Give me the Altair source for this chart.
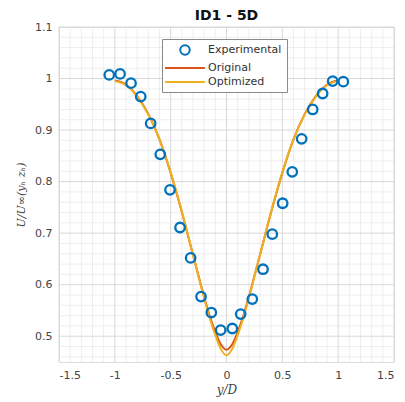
import altair as alt
import numpy as np
import pandas as pd

# ---- data ----
exp_x = [-1.05, -0.953, -0.855, -0.768, -0.679, -0.593, -0.506, -0.416, -0.321, -0.228,
         -0.136, -0.052, 0.052, 0.127, 0.231, 0.327, 0.410, 0.503, 0.589, 0.673,
         0.772, 0.861, 0.951, 1.046]
exp_y = [1.007, 1.009, 0.991, 0.965, 0.913, 0.853, 0.784, 0.711, 0.652, 0.577,
         0.546, 0.512, 0.515, 0.543, 0.572, 0.630, 0.698, 0.758, 0.819, 0.883,
         0.940, 0.971, 0.995, 0.994]

curve_x = [-1.0, -0.9, -0.8, -0.7, -0.6, -0.5, -0.4, -0.3, -0.2, -0.15, -0.1, -0.05, 0.0,
           0.05, 0.1, 0.15, 0.2, 0.3, 0.4, 0.5, 0.6, 0.7, 0.8, 0.9, 1.0]
orig_y = [0.996, 0.988, 0.966, 0.931, 0.882, 0.817, 0.741, 0.658, 0.576, 0.539, 0.508, 0.484, 0.474,
          0.484, 0.508, 0.539, 0.576, 0.658, 0.741, 0.817, 0.882, 0.931, 0.966, 0.988, 0.996]
opt_y = [0.995, 0.987, 0.965, 0.930, 0.882, 0.818, 0.742, 0.658, 0.574, 0.535, 0.502, 0.475, 0.463,
         0.475, 0.502, 0.535, 0.574, 0.658, 0.742, 0.818, 0.882, 0.930, 0.965, 0.987, 0.995]

series_names = ["Experimental", "Original", "Optimized"]
series_colors = ["#0072BD", "#D95319", "#EDB120"]
series_shapes = ["circle", "M-4.2,0L4.2,0", "M-4.2,0L4.2,0"]

x_ticks = [-1.5, -1, -0.5, 0, 0.5, 1, 1.5]
y_ticks = [0.5, 0.6, 0.7, 0.8, 0.9, 1, 1.1]

# ---- tables ----
exp_df = pd.DataFrame({"x": exp_x, "y": exp_y, "series": "Experimental"})
curve_df = pd.concat([
    pd.DataFrame({"x": curve_x, "y": orig_y, "series": "Original", "k": 0}),
    pd.DataFrame({"x": curve_x, "y": opt_y, "series": "Optimized", "k": 1}),
])

minor_x = [round(v, 2) for v in np.arange(-1.5, 1.501, 0.1) if round(v, 2) not in x_ticks]
minor_y = [round(v, 2) for v in np.arange(0.46, 1.1001, 0.02) if round(v, 2) not in y_ticks]
gx_major = pd.DataFrame({"v": x_ticks})
gy_major = pd.DataFrame({"v": y_ticks})
gx_minor = pd.DataFrame({"v": minor_x})
gy_minor = pd.DataFrame({"v": minor_y})

xs = alt.Scale(domain=[-1.5, 1.5], nice=False, zero=False)
ys = alt.Scale(domain=[0.45, 1.1], nice=False, zero=False)

legend = alt.Legend(
    title=None, orient="none", legendX=103, legendY=12,
    fillColor="white", strokeColor="#8a8a8a", padding=5, cornerRadius=0,
    labelFont="DejaVu Sans", labelFontSize=11, labelColor="#333333",
    symbolSize=90, symbolStrokeWidth=2, symbolOffset=12, labelOffset=17,
    rowPadding=3,
)
color_enc = alt.Color("series:N", scale=alt.Scale(domain=series_names, range=series_colors), legend=legend)
shape_enc = alt.Shape("series:N", scale=alt.Scale(domain=series_names, range=series_shapes), legend=legend)

xaxis = alt.Axis(values=x_ticks, grid=False, domain=False, ticks=False,
                 labelExpr="datum.value + ''", labelFont="DejaVu Sans", labelFontSize=11,
                 labelColor="#444444", labelPadding=7,
                 title="y/D", titleFont="DejaVu Serif", titleFontStyle="italic",
                 titleFontWeight="normal", titleFontSize=12, titleColor="#444444", titlePadding=4)
yaxis = alt.Axis(values=y_ticks, grid=False, domain=False, ticks=False,
                 labelExpr="datum.value + ''", labelFont="DejaVu Sans", labelFontSize=11,
                 labelColor="#444444", labelPadding=7,
                 title="U/U∞(yₕ zₕ)", titleFont="DejaVu Serif", titleFontStyle="italic",
                 titleFontWeight="normal", titleFontSize=11, titleColor="#444444", titlePadding=8)

minor_vx = alt.Chart(gx_minor).mark_rule(color="#eeeeee", strokeWidth=1).encode(x=alt.X("v:Q", scale=xs, axis=xaxis))
minor_hy = alt.Chart(gy_minor).mark_rule(color="#eeeeee", strokeWidth=1).encode(y=alt.Y("v:Q", scale=ys, axis=yaxis))
major_vx = alt.Chart(gx_major).mark_rule(color="#d8d8d8", strokeWidth=1).encode(x=alt.X("v:Q", scale=xs, axis=xaxis))
major_hy = alt.Chart(gy_major).mark_rule(color="#d8d8d8", strokeWidth=1).encode(y=alt.Y("v:Q", scale=ys, axis=yaxis))

lines = alt.Chart(curve_df).mark_line(strokeWidth=2, interpolate="monotone").encode(
    x=alt.X("x:Q", scale=xs, axis=xaxis),
    y=alt.Y("y:Q", scale=ys, axis=yaxis),
    color=color_enc,
    order="k:Q",
)
points = alt.Chart(exp_df).mark_point(filled=False, strokeWidth=2.3, size=90, opacity=1).encode(
    x=alt.X("x:Q", scale=xs, axis=xaxis),
    y=alt.Y("y:Q", scale=ys, axis=yaxis),
    color=color_enc,
    shape=shape_enc,
)

chart = alt.layer(minor_vx, minor_hy, major_vx, major_hy, lines, points).properties(
    width=335, height=335,
    title=alt.TitleParams("ID1 - 5D", font="DejaVu Sans", fontSize=14, fontWeight="bold",
                          color="#111111", anchor="middle", offset=-2),
    padding={"left": 59, "top": 27, "right": 11, "bottom": 40},
    autosize="none",
).configure_view(stroke="#555555", strokeWidth=1).configure(background="white")

chart.save("out.html", embed_options={"renderer": "svg", "actions": False})
